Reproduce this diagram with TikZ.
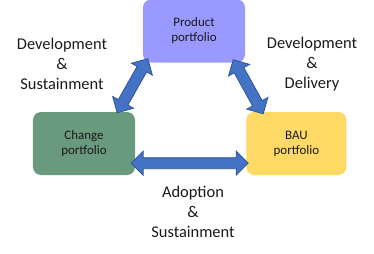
\documentclass[tikz,border=0pt]{standalone}
\usepackage{fontspec}
\setmainfont{Carlito}
\usetikzlibrary{calc,positioning}
\definecolor{lilac}{HTML}{9999FF}
\definecolor{sage}{HTML}{6A9A7E}
\definecolor{gold}{HTML}{FFD966}
\definecolor{arrowblue}{HTML}{4472C4}
\definecolor{edge}{HTML}{2F5597}
\definecolor{ink}{HTML}{1A1A1A}
\tikzset{
  box/.style={rounded corners=8bp,minimum width=102bp,minimum height=63bp,inner sep=0pt,align=center,text=ink,font=\fontsize{13}{15}\selectfont},
  flowlbl/.style={align=center,text=ink,font=\fontsize{16.5}{20}\selectfont},
  barrow/.style={draw=edge,fill=arrowblue,line width=0.8pt,line join=miter},
}

\begin{document}
\begin{tikzpicture}[x=1bp,y=-1bp]
    \useasboundingbox (0,0) rectangle (374,254);
    \node[box,fill=lilac] (product) at (194,31) {Product\\portfolio};
    \node[box,fill=sage] (change) at (84,143.5) {Change\\portfolio};
    \node[box,fill=gold,minimum width=100bp,right=111bp of change] (bau) {BAU\\portfolio};
    \node[flowlbl] (devsus) at (62,64) {Development\\\&\\Sustainment};
    \node[flowlbl] (devdel) at (312,64) {Development\\\&\\Delivery};
    \node[flowlbl] (adosus) at (193,212) {Adoption\\\&\\Sustainment};
    % arrow tips
    \coordinate (lt) at ($(product.south west)+(5,-4)$);
    \coordinate (lb) at ($(change.north east)+(-18,1)$);
    \coordinate (rt) at ($(product.south east)+(-12,-3)$);
    \coordinate (rb) at ($(bau.north west)+(17,2)$);
    \coordinate (hl) at ($(change.south east)+(-4,-12)$);
    \coordinate (hr) at ($(bau.south west)+(2,-12)$);
    \foreach \a/\b in {lt/lb,rt/rb,hl/hr}
      \draw[barrow] (\a) -- ($(\a)!12bp!(\b)!12bp!90:(\b)$) -- ($(\a)!12bp!(\b)!5.5bp!90:(\b)$)
        -- ($(\b)!12bp!(\a)!5.5bp!-90:(\a)$) -- ($(\b)!12bp!(\a)!12bp!-90:(\a)$) -- (\b)
        -- ($(\b)!12bp!(\a)!12bp!90:(\a)$) -- ($(\b)!12bp!(\a)!5.5bp!90:(\a)$)
        -- ($(\a)!12bp!(\b)!5.5bp!-90:(\b)$) -- ($(\a)!12bp!(\b)!12bp!-90:(\b)$) -- cycle;
  \end{tikzpicture}
\end{document}
